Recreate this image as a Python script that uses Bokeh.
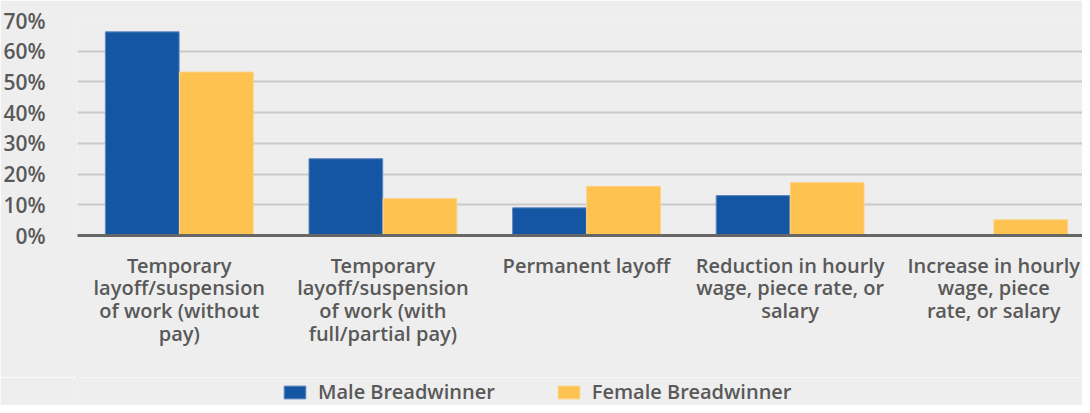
from bokeh.plotting import figure
from bokeh.layouts import column
from bokeh.models import (ColumnDataSource, Legend, LegendItem, SingleIntervalTicker, FixedTicker,
                          PrintfTickFormatter, Range1d)
from bokeh.transform import dodge
from bokeh.embed import file_html
from bokeh.resources import INLINE

categories = [
    "Temporary\nlayoff/suspension\nof work (without\npay)",
    "Temporary\nlayoff/suspension\nof work (with\nfull/partial pay)",
    "Permanent layoff",
    "Reduction in hourly\nwage, piece rate, or\nsalary",
    "Increase in hourly\nwage, piece\nrate, or salary",
]
male = [66.3, 25.0, 9.0, 13.0, 0.0]
female = [53.2, 12.0, 16.0, 17.2, 5.1]
series_names = ["Male Breadwinner", "Female Breadwinner"]
colors = ["#1556a4", "#fec251"]
edge_colors = ["#5f86bd", "#fdd27f"]

FONT = "Open Sans SemiBold"
TXT = "#595959"
BG = "#eeeeee"

# category slot centres on a numeric axis (slot i spans [i, i+1])
slots = [i + 0.5 for i in range(len(categories))]
src = ColumnDataSource(dict(slot=slots, male=male, female=female))

p = figure(
    x_range=Range1d(0, 4.936),
    y_range=(0, 70),
    width=1082, height=377,
    output_backend="svg", toolbar_location=None,
    min_border_left=67, min_border_right=0, min_border_top=20, min_border_bottom=142,
    background_fill_color=BG, border_fill_color=BG,
)
p.outline_line_color = None

r1 = p.vbar(x=dodge("slot", -0.182), top="male", width=0.362, source=src,
            fill_color=colors[0], line_color=edge_colors[0], line_width=1)
r2 = p.vbar(x=dodge("slot", 0.182), top="female", width=0.362, source=src,
            fill_color=colors[1], line_color=edge_colors[1], line_width=1)

p.xgrid.grid_line_color = None
p.ygrid.grid_line_color = "#c9c9c9"
p.ygrid.grid_line_width = 2

p.yaxis.ticker = SingleIntervalTicker(interval=10)
p.yaxis.formatter = PrintfTickFormatter(format="%d%%")
p.yaxis.axis_line_color = None
p.yaxis.major_tick_line_color = None
p.yaxis.minor_tick_line_color = None
p.yaxis.major_tick_out = 0
p.yaxis.major_label_standoff = 28
p.yaxis.major_label_text_font = FONT
p.yaxis.major_label_text_font_size = "21px"
p.yaxis.major_label_text_color = TXT

p.xaxis.ticker = FixedTicker(ticks=slots, minor_ticks=[])
p.xaxis.major_label_overrides = {s: c for s, c in zip(slots, categories)}
p.xaxis.axis_line_color = "#666666"
p.xaxis.axis_line_width = 3
p.xaxis.major_tick_line_color = None
p.xaxis.minor_tick_line_color = None
p.xaxis.major_tick_out = 0
p.xaxis.major_label_standoff = 16
p.xaxis.major_label_text_font = FONT
p.xaxis.major_label_text_font_size = "20px"
p.xaxis.major_label_text_color = TXT
p.xaxis.major_label_text_align = "center"
p.xaxis.major_label_text_baseline = "top"
p.xaxis.major_label_text_line_height = 0.85
p.xaxis.major_label_orientation = "horizontal"

# legend strip below the chart (legend swatches take their style from bars kept out of view)
lg = figure(
    width=1082, height=28, x_range=Range1d(100, 101), y_range=Range1d(-200, -199),
    output_backend="svg", toolbar_location=None,
    x_axis_location=None, y_axis_location=None,
    min_border_left=0, min_border_right=0, min_border_top=0, min_border_bottom=0,
    background_fill_color=BG, border_fill_color=BG,
)
lg.outline_line_color = None
lg.grid.grid_line_color = None
k1 = lg.vbar(x="slot", top="male", width=0.1, source=src, fill_color=colors[0], line_color=edge_colors[0])
k2 = lg.vbar(x="slot", top="female", width=0.1, source=src, fill_color=colors[1], line_color=edge_colors[1])

legend = Legend(
    items=[LegendItem(label=series_names[0], renderers=[k1]),
           LegendItem(label=series_names[1], renderers=[k2])],
    orientation="horizontal",
    location=(204, 0),
    background_fill_alpha=0, border_line_color=None,
    padding=0, margin=0, spacing=60,
    glyph_width=27, glyph_height=16, label_standoff=10,
    label_text_font=FONT, label_text_font_size="20px", label_text_color=TXT,
)
lg.add_layout(legend, "center")

layout = column(p, lg, spacing=0)
open("out.html", "w").write(file_html(layout, INLINE))
